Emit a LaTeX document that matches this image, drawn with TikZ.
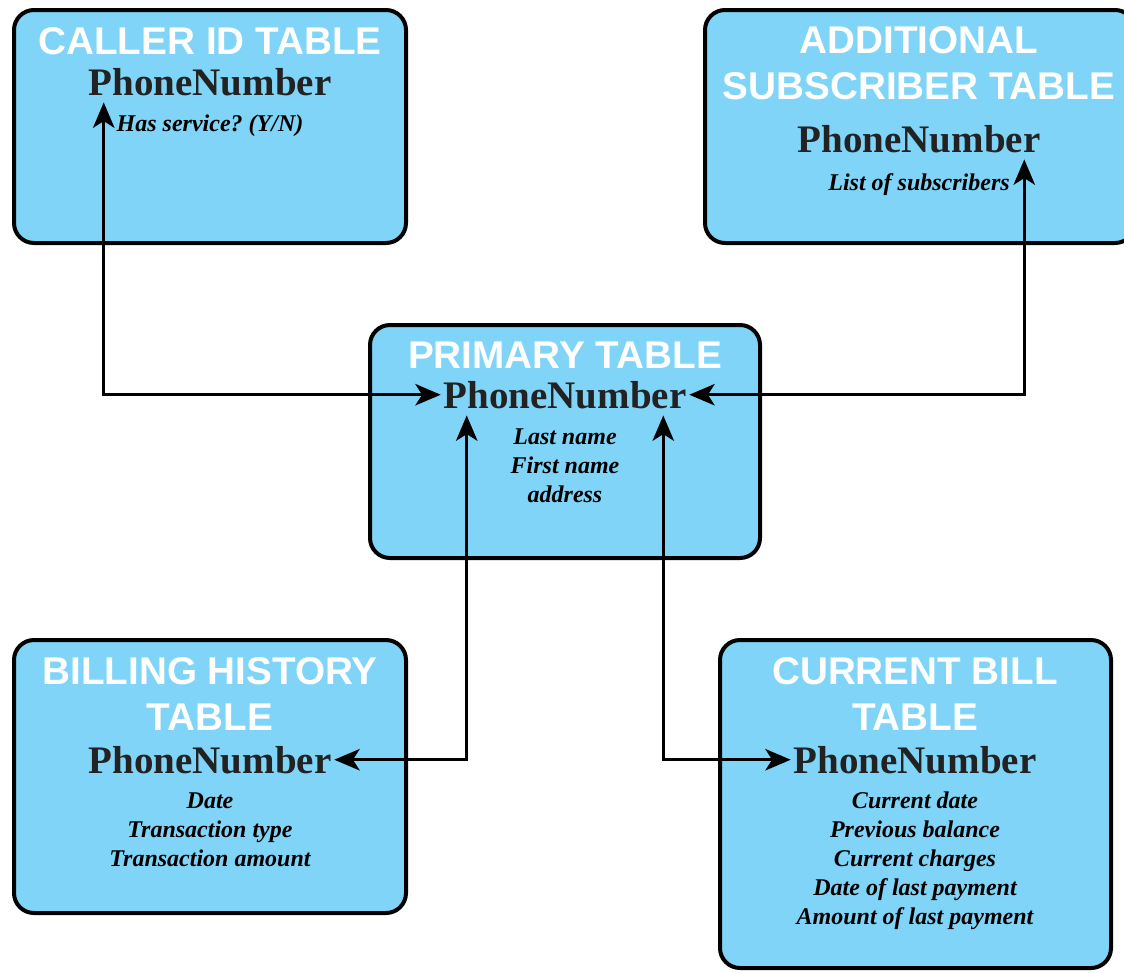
\documentclass[tikz,border=0pt]{standalone}
\usepackage{fontspec}
\setmainfont{Liberation Serif}
\setsansfont{Liberation Sans}
\usetikzlibrary{arrows.meta}
\definecolor{tblblue}{HTML}{80D4F7}
\definecolor{keygray}{HTML}{222222}
\frenchspacing

\begin{document}
\begin{tikzpicture}[x=0.75pt,y=-0.75pt,
    tbl/.style={draw=black,fill=tblblue,line width=3pt,rounded
        corners=15pt,inner sep=0pt},
    title/.style={anchor=base,align=center,text=white,inner sep=0pt,
        font=\sffamily\bfseries\fontsize{29}{34.5}\selectfont},
    key/.style={anchor=base,text=keygray,inner xsep=2pt,inner ysep=5pt,
        font=\bfseries\fontsize{29.25}{34}\selectfont},
    fields/.style={anchor=base,align=center,inner sep=0pt,
        font=\bfseries\itshape\fontsize{18}{21.75}\selectfont},
    link/.style={{Stealth[length=19pt,width=16pt,inset=5pt]}-{Stealth[length=19pt,width=16pt,inset=5pt]},
        line width=2.5pt}]
    \useasboundingbox[fill=white] (0,0) rectangle (1124,972);

    % the tables
    \node[tbl,minimum width=294pt,minimum height=174.75pt] (caller) at (210,126.5) {};
    \node[tbl,minimum width=322.5pt,minimum height=174.75pt] (addsub) at (920,126.5) {};
    \node[tbl,minimum width=292.5pt,minimum height=174.75pt] (primary) at (565,441.5) {};
    \node[tbl,minimum width=294pt,minimum height=204.75pt] (billing) at (210,776.5) {};
    \node[tbl,minimum width=293.25pt,minimum height=246pt] (current) at (915.5,804) {};

    % the titles (base = last line)
    \node[title] (callertitle) at (210,54) {CALLER ID TABLE};
    \node[title] (addsubtitle) at (919,99) {ADDITIONAL\\SUBSCRIBER TABLE};
    \node[title] (primarytitle) at (565,368) {PRIMARY TABLE};
    \node[title] (billingtitle) at (210,730) {BILLING HISTORY\\TABLE};
    \node[title] (currenttitle) at (915,730) {CURRENT BILL\\TABLE};

    % the keys
    \node[key] (callerkey) at (210,95) {PhoneNumber};
    \node[key] (addsubkey) at (919,152) {PhoneNumber};
    \node[key] (primarykey) at (565,408) {PhoneNumber};
    \node[key] (billingkey) at (210,773) {PhoneNumber};
    \node[key] (currentkey) at (915,773) {PhoneNumber};

    % the fields
    \node[fields] (callerfields) at (210,131) {Has service? (Y/N)};
    \node[fields] (addsubfields) at (919,190) {List of subscribers};
    \node[fields] (primaryfields) at (565,502) {Last name\\First name\\address};
    \node[fields] (billingfields) at (210,866) {Date\\Transaction type\\Transaction amount};
    \node[fields] (currentfields) at (915,924) {Current date\\Previous balance\\Current
        charges\\Date of last payment\\Amount of last payment};

    % the links
    \draw[link] ([xshift=13.5pt]callerkey.south west) |- (primarykey.west);
    \draw[link] ([xshift=-14.25pt]addsubkey.south east) |- (primarykey.east);
    \draw[link] ([xshift=19.5pt]primarykey.south west) |- (billingkey.east);
    \draw[link] ([xshift=-19.5pt]primarykey.south east) |- (currentkey.west);

  \end{tikzpicture}
\end{document}
